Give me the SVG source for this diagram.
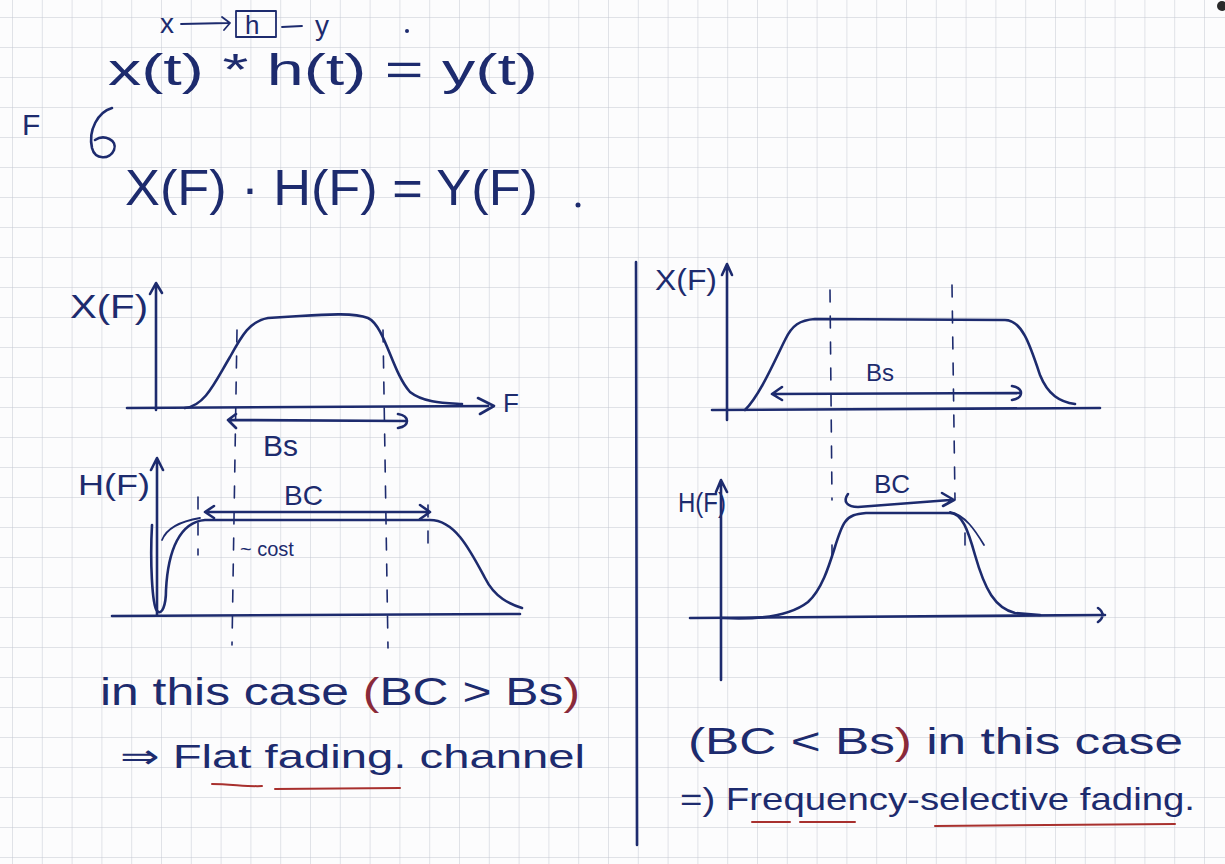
<svg xmlns="http://www.w3.org/2000/svg" width="1225" height="864" viewBox="0 0 1225 864">
<defs>
<pattern id="grid" x="12" y="17" width="29.8" height="30" patternUnits="userSpaceOnUse">
<path d="M0 0 H29.8 M0 0 V30" fill="none" stroke="#c3c8d2" stroke-width="1"/>
</pattern>
<style>
.ink{fill:none;stroke:#1d2b6e;stroke-width:2.6;stroke-linecap:round;stroke-linejoin:round}
.thin{fill:none;stroke:#1d2b6e;stroke-width:1.8;stroke-linecap:round;stroke-linejoin:round}
.dash{fill:none;stroke:#1d2b6e;stroke-width:1.6;stroke-dasharray:12 14;stroke-linecap:round}
.red{fill:none;stroke:#a8302e;stroke-width:2;stroke-linecap:round}
.t{font-family:"Liberation Sans","DejaVu Sans",sans-serif;fill:#1d2b6e}
.rp{fill:#8a2a3a}
</style>
</defs>
<rect width="1225" height="864" fill="#fcfcfd"/>
<rect width="1225" height="864" fill="url(#grid)"/>
<circle cx="1222" cy="6" r="5" fill="#2a2a2a"/>

<g id="equations">
<text class="t" x="160" y="33" font-size="28">x</text>
<path class="thin" d="M181 24 L228 23 M222 17 L230 23 L224 30"/>
<rect x="236" y="11" width="40" height="26" class="thin"/>
<text class="t" x="245" y="34" font-size="26">h</text>
<path class="thin" d="M282 27 L302 26"/>
<text class="t" x="315" y="35" font-size="28">y</text>
<circle cx="407" cy="31" r="2" fill="#1d2b6e"/>
<text class="t" x="108" y="85" font-size="44" textLength="430" lengthAdjust="spacingAndGlyphs">x(t) * h(t) = y(t)</text>
<text class="t" x="22" y="135" font-size="30">F</text>
<path class="ink" d="M112 108 C98 112 88 130 92 148 C95 160 110 160 114 150 C118 140 104 134 95 140"/>
<text class="t" x="125" y="205" font-size="50" textLength="413" lengthAdjust="spacingAndGlyphs">X(F) · H(F) = Y(F)</text>
<circle cx="578" cy="205" r="2.5" fill="#1d2b6e"/>
</g>

<g id="divider">
<path class="ink" d="M636 262 L637 845"/>
</g>

<g id="left-xf">
<text class="t" x="70" y="318" font-size="34" textLength="78" lengthAdjust="spacingAndGlyphs">X(F)</text>
<path class="ink" d="M156 410 L156 284 M150 294 L156 283 L162 293"/>
<path class="ink" d="M127 408 L488 406 M478 398 L494 406 L480 414"/>
<text class="t" x="503" y="412" font-size="26">F</text>
<path class="ink" d="M185 408 C205 406 215 382 230 357 C242 335 250 321 268 318 L300 316 C330 314 355 313 368 318 C385 326 392 372 410 392 C424 403 445 403 462 404"/>
<path class="ink" d="M228 420 L405 421 M236 414 L228 420 L236 428 M398 414 C410 416 410 426 398 428"/>
<text class="t" x="263" y="456" font-size="30">Bs</text>
</g>

<g id="left-hf">
<text class="t" x="78" y="495" font-size="30" textLength="72" lengthAdjust="spacingAndGlyphs">H(F)</text>
<path class="ink" d="M157 615 L157 460 M151 470 L157 458 L163 470"/>
<path class="ink" d="M112 616 L520 614"/>
<path class="ink" d="M152 525 C150 560 152 605 157 611 C162 616 166 605 166 590 C168 550 180 522 205 520 L430 520 C455 520 470 550 485 578 C495 598 510 604 522 608"/>
<path class="thin" d="M162 540 C166 530 176 522 200 518"/>
<path class="ink" d="M205 512 L428 512 M214 506 L205 512 L214 518 M420 505 L430 512 L420 519"/>
<text class="t" x="284" y="505" font-size="28">BC</text>
<text class="t" x="240" y="556" font-size="20">~ cost</text>
<path class="dash" d="M198 497 L198 555"/>
<path class="dash" d="M428 505 L428 548"/>
</g>

<g id="left-dashes">
<path class="dash" d="M237 330 L232 645"/>
<path class="dash" d="M383 330 L388 648"/>
</g>

<g id="right-xf">
<text class="t" x="655" y="290" font-size="30" textLength="62" lengthAdjust="spacingAndGlyphs">X(F)</text>
<path class="ink" d="M727 420 L727 266 M722 275 L727 264 L732 275"/>
<path class="ink" d="M712 410 L1100 408"/>
<path class="ink" d="M745 410 C760 395 775 360 785 340 C792 325 800 320 815 319 L1005 320 C1022 320 1030 345 1040 375 C1048 395 1060 402 1075 404"/>
<path class="ink" d="M772 394 L1020 393 M782 387 L772 394 L782 400 M1012 386 C1024 388 1024 398 1012 400"/>
<text class="t" x="866" y="381" font-size="24">Bs</text>
<path class="dash" d="M830 290 L832 500"/>
<path class="dash" d="M952 285 L955 500"/>
</g>

<g id="right-hf">
<text class="t" x="678" y="512" font-size="28" textLength="48" lengthAdjust="spacingAndGlyphs">H(F)</text>
<path class="ink" d="M721 680 L721 482 M716 492 L721 480 L727 492"/>
<path class="ink" d="M690 618 L1105 615 M1098 608 C1104 612 1104 618 1098 622"/>
<path class="ink" d="M722 618 C760 620 790 616 808 602 C830 582 835 535 845 522 C850 515 856 514 866 513 L950 513 C962 513 968 530 975 555 C985 590 995 608 1015 613 L1040 615"/>
<path class="thin" d="M950 512 C965 515 975 530 984 545"/>
<path class="ink" d="M848 494 C842 502 848 507 858 507 L950 500 M942 493 L954 500 L943 506"/>
<text class="t" x="874" y="493" font-size="26">BC</text>
<path class="dash" d="M832 545 L832 562"/>
<path class="dash" d="M965 533 L965 552"/>
</g>

<g id="left-conclusion">
<text class="t" x="100" y="705" font-size="38" textLength="480" lengthAdjust="spacingAndGlyphs">in this case <tspan class="rp">(</tspan>BC &gt; Bs<tspan class="rp">)</tspan></text>
<text class="t" x="120" y="768" font-size="34" textLength="465" lengthAdjust="spacingAndGlyphs">⇒ Flat fading. channel</text>
<path class="red" d="M212 784 C230 784 250 787 262 786 M275 789 L400 788"/>
</g>

<g id="right-conclusion">
<text class="t" x="688" y="754" font-size="36" textLength="495" lengthAdjust="spacingAndGlyphs">(BC &lt; Bs<tspan class="rp">)</tspan> in this case</text>
<text class="t" x="680" y="810" font-size="32" textLength="515" lengthAdjust="spacingAndGlyphs">=) Frequency-selective fading.</text>
<path class="red" d="M752 822 L790 822 M800 822 L855 822 M935 826 L1175 824"/>
</g>
</svg>
